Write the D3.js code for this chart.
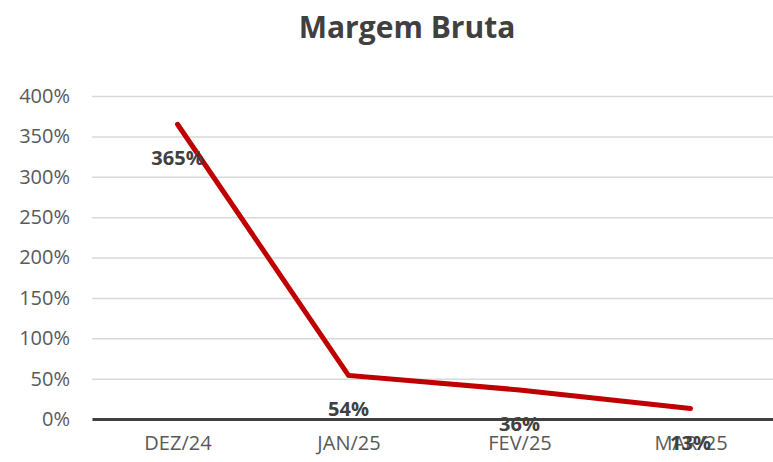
<!DOCTYPE html>
<html><head><meta charset="utf-8">
<script src="https://cdn.jsdelivr.net/npm/d3@7"></script>
<style>body{margin:0;background:#fff}svg{display:block}</style>
</head><body>
<script>
const categories = ["DEZ/24","JAN/25","FEV/25","MAR/25"];
const values = [3.65, 0.54, 0.36, 0.13];
const labels = ["365%","54%","36%","13%"];
const yTicks = [0,0.5,1,1.5,2,2.5,3,3.5,4];
const title = "Margem Bruta";

(function(){
const W=773,H=462;
const svg=d3.select("body").append("svg").attr("width",W).attr("height",H);
const mL=92,mR=776,mT=96,mB=419;
const x=d3.scalePoint().domain(categories).range([mL,mR]).padding(0.5);
const y=d3.scaleLinear().domain([0,4]).range([mB,mT]);

svg.append("text").attr("x",407).attr("y",38).attr("text-anchor","middle")
  .attr("font-family","Open Sans").attr("font-weight","bold").attr("font-size",30)
  .attr("fill","#404040").text(title);

const yAxis=svg.append("g").attr("transform",`translate(${mL},0)`)
  .call(d3.axisLeft(y).tickValues(yTicks).tickSize(-(mR-mL)).tickFormat(d=>Math.round(d*100)+"%"));
yAxis.select(".domain").remove();
yAxis.selectAll(".tick line").attr("stroke","#d9d9d9").attr("stroke-width",1.5);
yAxis.selectAll(".tick text").attr("x",-22).attr("font-family","Open Sans").attr("font-size",20).attr("fill","#595959");

const xAxis=svg.append("g").attr("transform",`translate(0,${mB})`)
  .call(d3.axisBottom(x).tickSize(0).tickPadding(17));
xAxis.select(".domain").attr("stroke","#404040").attr("stroke-width",3);
xAxis.selectAll(".tick text").attr("font-family","Open Sans").attr("font-size",20).attr("fill","#595959");

svg.append("path").datum(values)
  .attr("d",d3.line().x((d,i)=>x(categories[i])).y(d=>y(d)))
  .attr("fill","none").attr("stroke","#c00000").attr("stroke-width",5).attr("stroke-linecap","round").attr("stroke-linejoin","miter");

svg.selectAll(".lbl").data(values).join("text")
  .attr("x",(d,i)=>x(categories[i])).attr("y",d=>y(d)+41).attr("text-anchor","middle")
  .attr("font-family","Open Sans").attr("font-weight","bold").attr("font-size",20).attr("fill","#404040")
  .text((d,i)=>labels[i]);
})();
</script>
</body></html>
